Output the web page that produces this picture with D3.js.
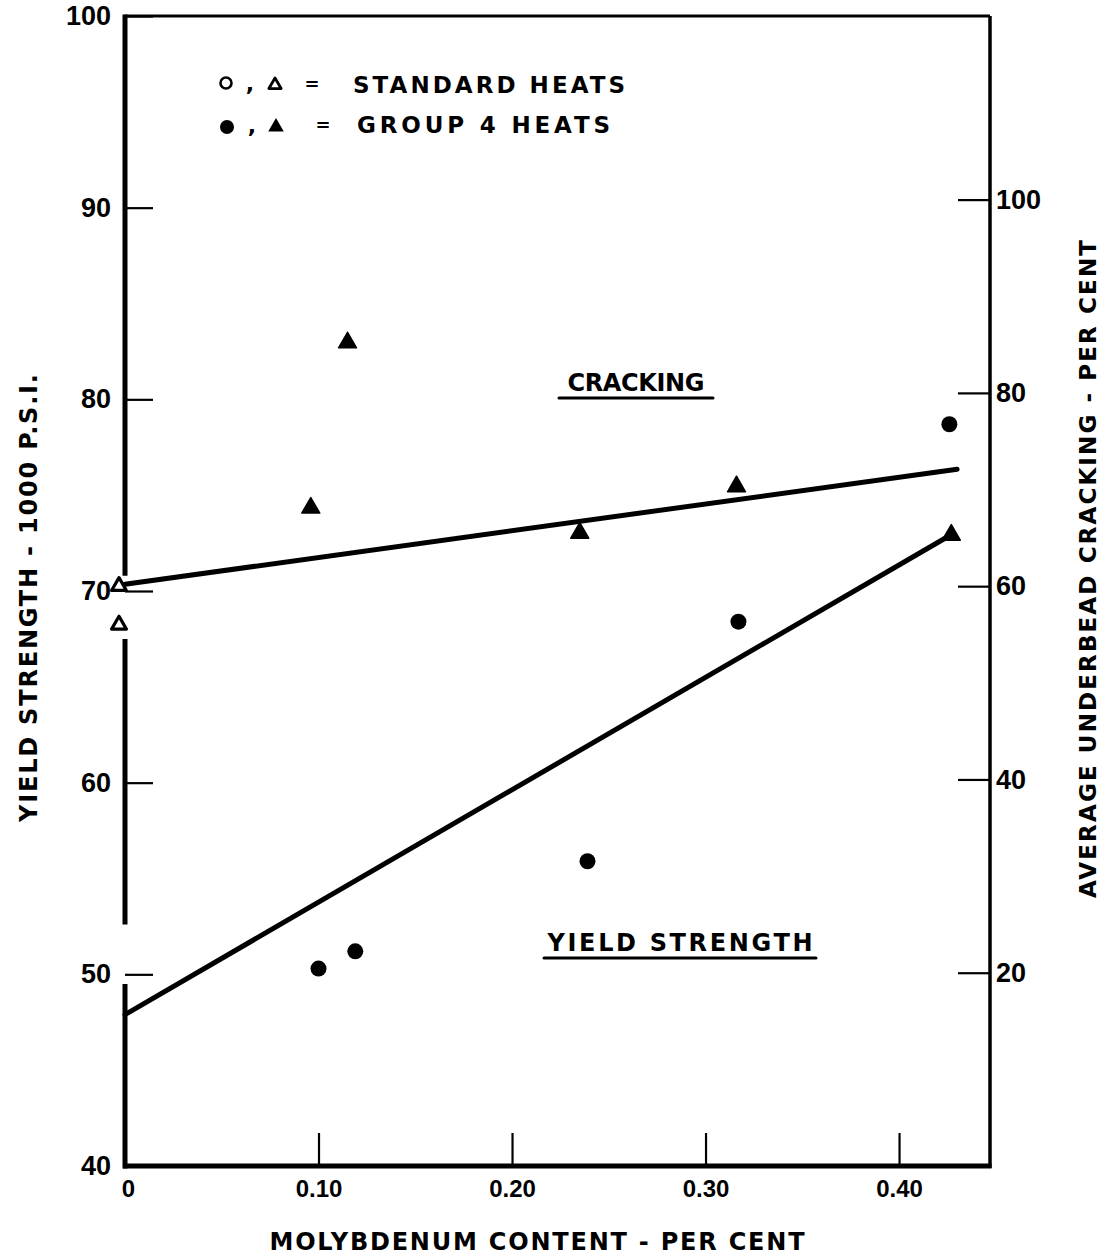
<!DOCTYPE html>
<html>
<head>
<meta charset="utf-8">
<script src="https://cdn.jsdelivr.net/npm/d3@7"></script>
<style>
  html, body { margin: 0; padding: 0; background: #fff; }
  svg text { font-family: "DejaVu Sans", "Liberation Sans", sans-serif; font-weight: bold; fill: #000; }
  svg .tick text { font-family: "Liberation Sans", Arial, sans-serif; }
</style>
</head>
<body>
<svg id="chart" width="1104" height="1257"></svg>
<script>
// Molybdenum content (per cent) and measured values
const xTicks = [0, 0.10, 0.20, 0.30, 0.40];
const xTickLabels = ["0", "0.10", "0.20", "0.30", "0.40"];
const yieldTicks = [40, 50, 60, 70, 80, 90, 100];
const crackTicks = [20, 40, 60, 80, 100];

// Average underbead cracking, standard heats (open triangles)
const crackStdMo = [0, 0];
const crackStdVal = [60.0, 56.0];
// Average underbead cracking, group 4 heats (filled triangles)
const crackG4Mo = [0.096, 0.115, 0.235, 0.316, 0.427];
const crackG4Val = [68.1, 85.2, 65.5, 70.3, 65.3];
// Yield strength, group 4 heats (filled circles), 1000 psi
const yieldG4Mo = [0.100, 0.119, 0.239, 0.317, 0.426];
const yieldG4Val = [50.3, 51.2, 55.9, 68.4, 78.7];

// Fitted trend lines (endpoints)
const crackFitMo = [0, 0.430];
const crackFitVal = [60.2, 72.1];
const yieldFitMo = [0, 0.428];
const yieldFitVal = [47.9, 73.0];

// Visible pieces of the left axis line (yield scale units)
const leftAxisPieces = [[100, 70.8], [67.5, 52.6], [49.5, 40]];

const svg = d3.select("#chart");
const L = 125, R = 990, T = 16, B = 1166;

const x = d3.scaleLinear().domain([0, 0.447]).range([L, R]);
const yL = d3.scaleLinear().domain([40, 100]).range([B, T]);
const yR = d3.scaleLinear().domain([0, 119]).range([B, T]);

// Frame: top, right and bottom edges
svg.append("line").attr("x1", L).attr("x2", R).attr("y1", T).attr("y2", T)
  .attr("stroke", "#000").attr("stroke-width", 3);
svg.append("line").attr("x1", R).attr("x2", R).attr("y1", T).attr("y2", B + 2)
  .attr("stroke", "#000").attr("stroke-width", 3.5);
svg.append("line").attr("x1", L - 2).attr("x2", R + 1.5).attr("y1", B).attr("y2", B)
  .attr("stroke", "#000").attr("stroke-width", 5);
// Left edge, broken around the markers and the 50 tick
leftAxisPieces.forEach(p => {
  svg.append("line").attr("x1", L).attr("x2", L)
    .attr("y1", yL(p[0]) - (p[0] === 100 ? 1.5 : 0)).attr("y2", yL(p[1]) + (p[1] === 40 ? 2.5 : 0))
    .attr("stroke", "#000").attr("stroke-width", 5);
});

// Left axis (yield strength)
const axL = svg.append("g").attr("transform", `translate(${L},0)`)
  .call(d3.axisLeft(yL).tickValues(yieldTicks).tickSizeInner(-28).tickSizeOuter(0).tickPadding(14).tickFormat(d3.format("d")));
axL.select(".domain").remove();
axL.selectAll(".tick line").attr("stroke", "#000").attr("stroke-width", 2.2);
axL.selectAll(".tick text").style("font-size", "27px").style("font-family", null).attr("fill", "#000");

// Right axis (cracking)
const axR = svg.append("g").attr("transform", `translate(${R},0)`)
  .call(d3.axisRight(yR).tickValues(crackTicks).tickSizeInner(-32).tickSizeOuter(0).tickPadding(6).tickFormat(d3.format("d")));
axR.select(".domain").remove();
axR.selectAll(".tick line").attr("stroke", "#000").attr("stroke-width", 2.2);
axR.selectAll(".tick text").style("font-size", "27px").style("font-family", null).attr("fill", "#000");

// Bottom axis (molybdenum content)
const axB = svg.append("g").attr("transform", `translate(0,${B})`)
  .call(d3.axisBottom(x).tickValues(xTicks).tickSizeInner(-33).tickSizeOuter(0).tickPadding(14)
    .tickFormat((d, i) => xTickLabels[i]));
axB.select(".domain").remove();
axB.selectAll(".tick line").attr("stroke", "#000").attr("stroke-width", 2.2);
axB.selectAll(".tick text").style("font-size", "24px").style("font-family", null).attr("fill", "#000");
axB.selectAll(".tick").filter(d => d === 0).select("text").attr("dx", 3);

// Axis titles
svg.append("text").attr("transform", "translate(37,598) rotate(-90)")
  .attr("text-anchor", "middle").style("font-size", "24px")
  .attr("textLength", 448).attr("lengthAdjust", "spacing")
  .text("YIELD STRENGTH - 1000 P.S.I.");
svg.append("text").attr("transform", "translate(1096,569) rotate(-90)")
  .attr("text-anchor", "middle").style("font-size", "23px")
  .attr("textLength", 658).attr("lengthAdjust", "spacing")
  .text("AVERAGE UNDERBEAD CRACKING - PER CENT");
svg.append("text").attr("x", 537).attr("y", 1250)
  .attr("text-anchor", "middle").style("font-size", "24px")
  .attr("textLength", 535).attr("lengthAdjust", "spacing")
  .text("MOLYBDENUM  CONTENT - PER CENT");

// Trend lines
svg.append("path")
  .datum(crackFitMo.map((m, i) => [m, crackFitVal[i]]))
  .attr("d", d3.line().x(d => x(d[0])).y(d => yR(d[1])))
  .attr("fill", "none").attr("stroke", "#000").attr("stroke-width", 5).attr("stroke-linecap", "round");
svg.append("path")
  .datum(yieldFitMo.map((m, i) => [m, yieldFitVal[i]]))
  .attr("d", d3.line().x(d => x(d[0])).y(d => yL(d[1])))
  .attr("fill", "none").attr("stroke", "#000").attr("stroke-width", 5).attr("stroke-linecap", "round");

// Markers
const tri = d3.symbol().type(d3.symbolTriangle);
svg.append("g").selectAll("path")
  .data(crackStdMo.map((m, i) => [m, crackStdVal[i]]))
  .join("path")
  .attr("transform", d => `translate(${x(d[0]) - 6},${yR(d[1])})`)
  .attr("d", tri.size(95)())
  .attr("fill", "#fff").attr("stroke", "#000").attr("stroke-width", 3.2).attr("stroke-linejoin", "round");
svg.append("g").selectAll("path")
  .data(crackG4Mo.map((m, i) => [m, crackG4Val[i]]))
  .join("path")
  .attr("transform", d => `translate(${x(d[0])},${yR(d[1])})`)
  .attr("d", tri.size(140)())
  .attr("fill", "#000").attr("stroke", "#000").attr("stroke-width", 1.5).attr("stroke-linejoin", "round");
svg.append("g").selectAll("circle")
  .data(yieldG4Mo.map((m, i) => [m, yieldG4Val[i]]))
  .join("circle")
  .attr("cx", d => x(d[0])).attr("cy", d => yL(d[1])).attr("r", 8)
  .attr("fill", "#000");

// Curve labels with underlines
function underlined(text, cx, baseline, width, ulWidth, size) {
  svg.append("text").attr("x", cx).attr("y", baseline).attr("text-anchor", "middle")
    .style("font-size", size + "px").attr("textLength", width).attr("lengthAdjust", "spacing").text(text);
  svg.append("line").attr("x1", cx - ulWidth / 2).attr("x2", cx + ulWidth / 2)
    .attr("y1", baseline + 7).attr("y2", baseline + 7)
    .attr("stroke", "#000").attr("stroke-width", 3).attr("stroke-linecap", "round");
}
underlined("CRACKING", 636, 391, 137, 154, 24);
underlined("YIELD STRENGTH", 680, 951, 265, 272, 24);

// Legend
const lg = svg.append("g");
lg.append("circle").attr("cx", 226).attr("cy", 83).attr("r", 5.5).attr("fill", "#fff")
  .attr("stroke", "#000").attr("stroke-width", 2.6);
lg.append("text").attr("x", 250).attr("y", 91).attr("text-anchor", "middle").style("font-size", "22px").text(",");
lg.append("path").attr("transform", "translate(275,85)").attr("d", d3.symbol().type(d3.symbolTriangle).size(65)())
  .attr("fill", "#fff").attr("stroke", "#000").attr("stroke-width", 2.8).attr("stroke-linejoin", "round");
lg.append("text").attr("x", 312).attr("y", 90).attr("text-anchor", "middle").style("font-size", "18px").text("=");
lg.append("text").attr("x", 353).attr("y", 93).style("font-size", "23px")
  .attr("textLength", 272).attr("lengthAdjust", "spacing").text("STANDARD HEATS");

lg.append("circle").attr("cx", 227).attr("cy", 127).attr("r", 7).attr("fill", "#000");
lg.append("text").attr("x", 252).attr("y", 133).attr("text-anchor", "middle").style("font-size", "22px").text(",");
lg.append("path").attr("transform", "translate(276,127)").attr("d", d3.symbol().type(d3.symbolTriangle).size(105)())
  .attr("fill", "#000");
lg.append("text").attr("x", 323).attr("y", 131).attr("text-anchor", "middle").style("font-size", "18px").text("=");
lg.append("text").attr("x", 357).attr("y", 133).style("font-size", "23px")
  .attr("textLength", 253).attr("lengthAdjust", "spacing").text("GROUP  4  HEATS");
</script>
</body>
</html>
